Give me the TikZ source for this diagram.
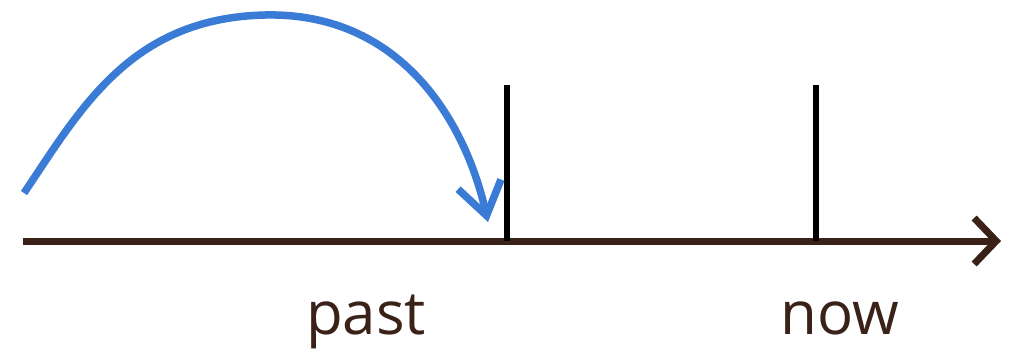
\documentclass[tikz,border=0pt]{standalone}
\usepackage{fontspec}
\setmainfont{Open Sans}
\usetikzlibrary{arrows.meta}
\definecolor{axisbrown}{HTML}{3A2218}
\definecolor{arcblue}{HTML}{3A7BD5}
\begin{document}
\begin{tikzpicture}[x=1pt,y=-1pt,
  axisline/.style={draw=axisbrown,line width=7pt,-{Straight Barb[length=22pt,width=46pt,line width=7pt]}},
  tick/.style={draw=black,line width=5.5pt},
  jump/.style={draw=arcblue,line width=7.5pt,-{Straight Barb[length=32pt,width=44pt,line width=7.5pt]}},
  lbl/.style={text=axisbrown,font=\fontsize{60}{60}\selectfont,inner sep=0pt,anchor=base}]
\useasboundingbox (0,0) rectangle (1009,357);
\coordinate (a0) at (23,241);
\coordinate (a1) at (1001,241);
\coordinate (t1top) at (507,85);
\coordinate (t1bot) at (507,241);
\coordinate (t2top) at (816,85);
\coordinate (t2bot) at (816,241);
\coordinate (cs) at (24,193);
\coordinate (cp) at (265,15);
\coordinate (ce) at (488,222);
\draw[axisline] (a0) -- (a1);
\draw[tick] (t1top) -- (t1bot);
\draw[tick] (t2top) -- (t2bot);
\draw[jump] (cs) .. controls (80,110) and (130,18) .. (cp) .. controls (400,12) and (465,120) .. (ce);
\node[lbl] (past) at (366,334) {past};
\node[lbl] (now) at (840,334) {now};
\end{tikzpicture}
\end{document}
